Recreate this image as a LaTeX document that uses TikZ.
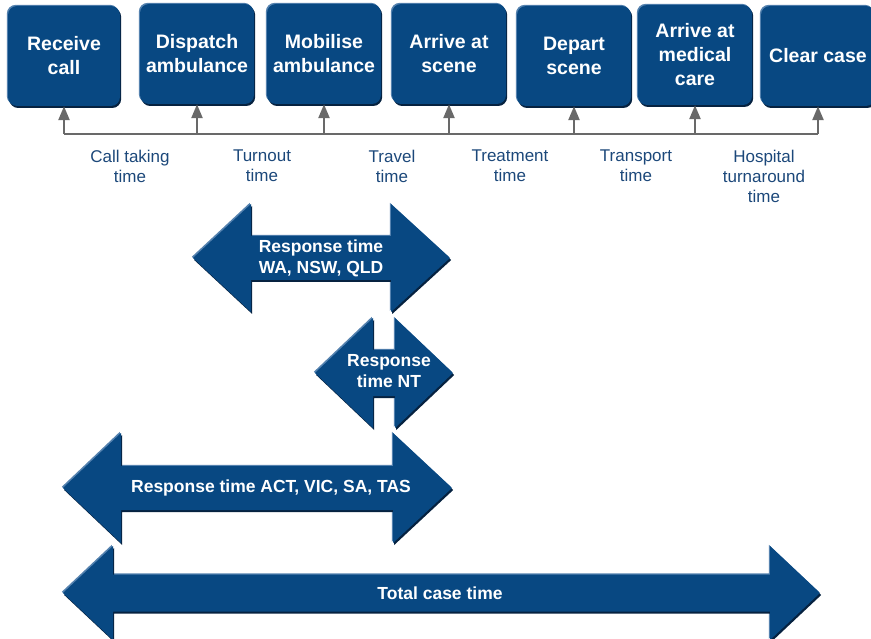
\documentclass[tikz,border=0pt]{standalone}
\usepackage{fontspec}
\setmainfont{Liberation Sans}
\usetikzlibrary{arrows.meta}
\definecolor{mainblue}{RGB}{8,72,130}
\definecolor{hlblue}{RGB}{85,130,175}
\definecolor{shblue}{RGB}{6,34,64}
\definecolor{labblue}{RGB}{28,72,122}
\definecolor{tgray}{RGB}{105,105,105}
\newcommand\BxFont{\fontsize{19.5}{24}\selectfont\bfseries}
\newcommand\LabFont{\fontsize{17}{20}\selectfont}
\newcommand\ArFont{\fontsize{17.5}{21}\selectfont\bfseries}
% #1 left tip x, #2 left base x, #3 right base x, #4 right tip x, #5 centre y, #6 shaft half height, #7 head half height, #8 style
\newcommand\ArrowShape[8]{%
  \fill[#8] (#1,#5) -- (#2,{#5-#7}) -- (#2,{#5-#6}) -- (#3,{#5-#6}) -- (#3,{#5-#7}) -- (#4,#5)
    -- (#3,{#5+#7}) -- (#3,{#5+#6}) -- (#2,{#5+#6}) -- (#2,{#5+#7}) -- cycle;}
\newcommand\BevelArrow[7]{%
  \ArrowShape{#1}{#2}{#3}{#4}{#5}{#6}{#7}{hlfill}%
  \ArrowShape{#1}{#2}{#3}{#4}{#5}{#6}{#7}{shfill}%
  \ArrowShape{#1}{#2}{#3}{#4}{#5}{#6}{#7}{mainfill}}
\tikzset{
  hlfill/.style={fill=hlblue, shift={(-1.2,-1.2)}},
  shfill/.style={fill=shblue, shift={(1.2,2)}},
  mainfill/.style={fill=mainblue},
  box/.style={rounded corners=9pt, fill=mainblue, text=white, align=center,
    inner sep=0pt, minimum width=114pt, minimum height=100pt, font=\BxFont,
    preaction={fill=hlblue, transform canvas={shift={(-1.2pt,1.2pt)}}},
    preaction={fill=shblue, transform canvas={shift={(1.2pt,-2pt)}}}},
  lab/.style={text=labblue, align=center, inner sep=0pt, font=\LabFont, anchor=north},
  atext/.style={text=white, align=center, inner sep=0pt, font=\ArFont},
  gline/.style={draw=tgray, line width=2.4pt},
  garrow/.style={draw=tgray, line width=2.4pt, -{Triangle[width=11pt,length=14pt]}}
}
\begin{document}
\begin{tikzpicture}[x=1pt,y=-1pt]
\useasboundingbox (0,0) rectangle (871,639);
% boxes
\node[box, minimum width=112pt] (b1) at (64,56) {Receive\\call};
\node[box] (b2) at (197,54) {Dispatch\\ambulance};
\node[box] (b3) at (324,54) {Mobilise\\ambulance};
\node[box] (b4) at (449,54) {Arrive at\\scene};
\node[box] (b5) at (574,56) {Depart\\scene};
\node[box] (b6) at (695,55) {Arrive at\\medical\\care};
\node[box] (b7) at (818,56) {Clear case};
% timeline
\coordinate (t1) at (64,134);
\coordinate (t2) at (197,134);
\coordinate (t3) at (324,134);
\coordinate (t4) at (449,134);
\coordinate (t5) at (574,134);
\coordinate (t6) at (695,134);
\coordinate (t7) at (818,134);
\draw[gline] (t1) -- (t7);
\foreach \i in {1,...,7}{\draw[garrow] (t\i) -- (b\i.south);}
% labels
\node[lab] (l1) at (130,150) {Call taking\\time};
\node[lab] (l2) at (262,150) {Turnout\\time};
\node[lab] (l3) at (392,150) {Travel\\time};
\node[lab] (l4) at (510,150) {Treatment\\time};
\node[lab] (l5) at (636,150) {Transport\\time};
\node[lab] (l6) at (764,150) {Hospital\\turnaround\\time};
% big arrows
\BevelArrow{193}{251}{391}{450}{258}{22}{54}
\BevelArrow{315}{373}{395}{453}{373}{23}{55}
\BevelArrow{63}{121}{393}{452}{488}{22}{55}
\BevelArrow{63}{113}{770}{820}{593}{18.5}{47}
\node[atext] (a1) at (321,258) {Response time\\WA, NSW, QLD};
\node[atext] (a2) at (389,371) {Response\\time NT};
\node[atext] (a3) at (271,488) {Response time ACT, VIC, SA, TAS};
\node[atext] (a4) at (440,593) {Total case time};
\end{tikzpicture}
\end{document}
